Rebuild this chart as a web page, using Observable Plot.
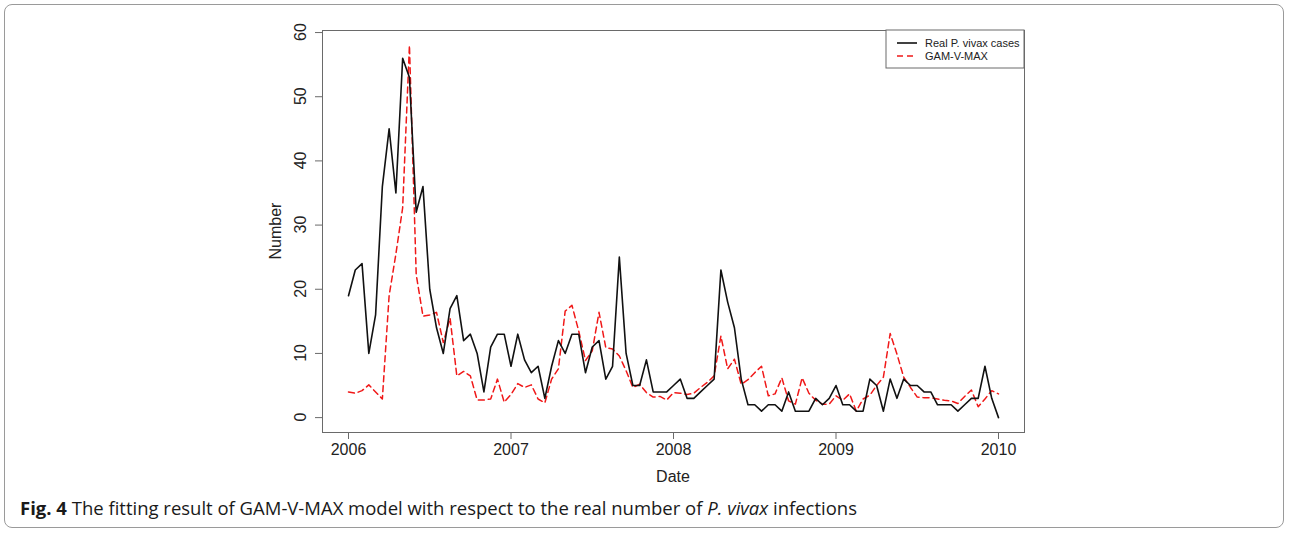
<!DOCTYPE html>
<html>
<head>
<meta charset="utf-8">
<script src="https://cdn.jsdelivr.net/npm/d3@7"></script>
<script src="https://cdn.jsdelivr.net/npm/@observablehq/plot@0.6"></script>
<style>
  html, body { margin: 0; padding: 0; background: #fff; }
  #wrap { position: relative; width: 1290px; height: 533px; overflow: hidden; background: #fff; }
  #frame { position: absolute; left: 4px; top: 4px; width: 1280px; height: 524px; border: 1px solid #9a9a9a; border-radius: 8px; box-sizing: border-box; }
  #chart { position: absolute; left: 0; top: 0; }
  #caption { position: absolute; left: 20px; top: 496px; font-family: "Open Sans", sans-serif; font-size: 18px; color: #1a1a1a; white-space: nowrap; transform-origin: 0 0; }
  #caption b { font-weight: 700; }
</style>
</head>
<body>
<div id="wrap">
  <div id="frame"></div>
  <div id="chart"></div>
  <div id="caption"><b>Fig. 4</b> The fitting result of GAM-V-MAX model with respect to the real number of <i>P. vivax</i> infections</div>
</div>
<script>
// Semi-monthly observations, 2006 to 2010 (97 periods)
const startYear = 2006;
const periodsPerYear = 24;
const realCases = [19,23,24,10,16,36,45,35,56,53,32,36,20,14,10,17,19,12,13,10,4,11,13,13,8,13,9,7,8,3,8,12,10,13,13,7,11,12,6,8,25,10,5,5,9,4,4,4,5,6,3,3,4,5,6,23,18,14,6,2,2,1,2,2,1,4,1,1,1,3,2,3,5,2,2,1,1,6,5,1,6,3,6,5,5,4,4,2,2,2,1,2,3,3,8,3,0];
const gamVMax = [4,3.8,4.2,5.1,4,2.9,19,25.5,32.7,58,22.3,15.8,16,16.4,11.7,15.5,6.5,7.2,6.5,2.75,2.75,2.9,6,2.4,3.6,5.3,4.7,5.1,2.9,2.3,6,7.6,16.6,17.5,13.5,8.9,10.4,16.4,10.9,10.7,9.6,7.3,4.7,5.2,3.9,3.2,3.3,2.75,3.9,3.8,3.6,3.8,4.7,5.5,6.5,12.7,7.6,9.1,5.2,5.9,7,8,3.4,3.7,6.2,2.6,2.1,6.2,3.8,2.7,2.1,2.1,3.4,2.7,3.7,1,2.9,3.5,5,6.3,13.1,9.9,6.3,4.7,3.2,3.1,3.1,2.9,2.7,2.6,2.2,3.3,4.3,1.7,2.9,4.2,3.7];
const xTicks = [2006, 2007, 2008, 2009, 2010];
const yTicks = [0, 10, 20, 30, 40, 50, 60];
const seriesNames = ["Real P. vivax cases", "GAM-V-MAX"];

const realData = realCases.map((v, i) => ({t: startYear + i / periodsPerYear, v}));
const gamData = gamVMax.map((v, i) => ({t: startYear + i / periodsPerYear, v}));

const axisColor = "#6a6a6a";
const font = "'Liberation Sans', Arial, Helvetica, sans-serif";

const plot = Plot.plot({
  width: 1290,
  height: 490,
  marginLeft: 322,
  marginRight: 266,
  marginTop: 30,
  marginBottom: 58,
  style: {fontFamily: font, background: "transparent", color: "#222"},
  x: {type: "linear", domain: [2005.84, 2010.16]},
  y: {type: "linear", domain: [-2.32, 60.32]},
  marks: [
    Plot.frame({stroke: axisColor, strokeWidth: 1}),
    Plot.axisX({ticks: xTicks, tickSize: 7, tickPadding: 4, tickFormat: d => String(d), fontSize: 16, label: null, stroke: axisColor, color: "#222"}),
    Plot.axisY({ticks: yTicks, tickSize: 7, tickFormat: () => "", label: null, stroke: axisColor}),
    Plot.line(gamData, {x: "t", y: "v", stroke: "#f01818", strokeWidth: 1.5, strokeDasharray: "6,4"}),
    Plot.line(realData, {x: "t", y: "v", stroke: "#111", strokeWidth: 1.6})
  ]
});
document.getElementById("chart").appendChild(plot);

const svg = d3.select(plot);
const ys = plot.scale("y");
const xs = plot.scale("x");
// rotated y tick labels (R style)
yTicks.forEach(t => {
  const py = ys.apply(t);
  svg.append("text")
    .attr("transform", `translate(306,${py}) rotate(-90)`)
    .attr("text-anchor", "middle")
    .attr("font-family", font).attr("font-size", 16).attr("fill", "#222")
    .text(t);
});
// axis titles
svg.append("text").attr("x", (xs.apply(2006) + xs.apply(2010)) / 2).attr("y", 482)
  .attr("text-anchor", "middle").attr("font-family", font).attr("font-size", 16).attr("fill", "#222").text("Date");
svg.append("text").attr("transform", `translate(281,${(ys.apply(-2.32) + ys.apply(60.32)) / 2}) rotate(-90)`)
  .attr("text-anchor", "middle").attr("font-family", font).attr("font-size", 16).attr("fill", "#222").text("Number");

// legend (top-right inside plot)
const lg = svg.append("g");
lg.append("rect").attr("x", 886).attr("y", 30).attr("width", 138).attr("height", 38)
  .attr("fill", "#fff").attr("stroke", axisColor).attr("stroke-width", 1);
lg.append("line").attr("x1", 897).attr("x2", 917).attr("y1", 43).attr("y2", 43).attr("stroke", "#111").attr("stroke-width", 1.6);
lg.append("line").attr("x1", 897).attr("x2", 917).attr("y1", 56).attr("y2", 56).attr("stroke", "#f01818").attr("stroke-width", 1.5).attr("stroke-dasharray", "6,4");
seriesNames.forEach((n, k) => {
  lg.append("text").attr("x", 925).attr("y", 43 + 13 * k).attr("dy", "0.35em")
    .attr("text-anchor", "start")
    .attr("font-family", font).attr("font-size", 11).attr("fill", "#222").text(n);
});

// fit caption width
const cap = document.getElementById("caption");
const w = cap.getBoundingClientRect().width;
cap.style.transform = `scaleX(${837 / w})`;
</script>
</body>
</html>
